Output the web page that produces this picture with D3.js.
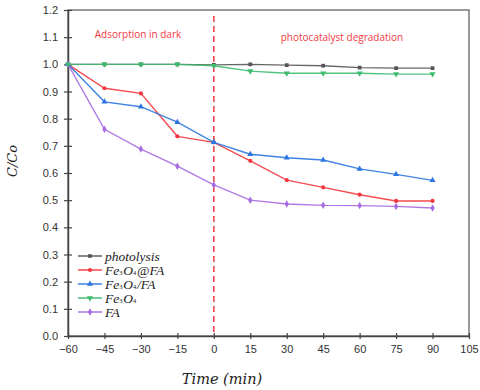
<!DOCTYPE html>
<html><head><meta charset="utf-8">
<script src="https://cdn.jsdelivr.net/npm/d3@7"></script>
<style>body{margin:0;background:#fff}svg{display:block}</style>
</head><body>
<svg id="c" width="480" height="390"></svg>
<script>
const times = [-60,-45,-30,-15,0,15,30,45,60,75,90];
const photolysis = [1.0,1.0,1.0,1.0,0.998,1.0,0.997,0.995,0.988,0.986,0.986];
const fe3o4AtFA = [1.0,0.912,0.893,0.735,0.713,0.645,0.574,0.547,0.520,0.497,0.497];
const fe3o4SlashFA = [1.0,0.862,0.844,0.787,0.713,0.669,0.656,0.648,0.615,0.595,0.573];
const fe3o4 = [1.0,1.0,1.0,1.0,0.995,0.975,0.967,0.967,0.967,0.964,0.964];
const fa = [1.0,0.761,0.688,0.625,0.556,0.500,0.486,0.481,0.480,0.477,0.471];
const xTicks = [-60,-45,-30,-15,0,15,30,45,60,75,90,105];
const yTicks = [0,0.1,0.2,0.3,0.4,0.5,0.6,0.7,0.8,0.9,1.0,1.1,1.2];

const series = [
  {name:"photolysis", vals:photolysis, color:"#555555", sym:d3.symbolSquare, size:14, rot:0},
  {name:"Fe3O4@FA", vals:fe3o4AtFA, color:"#f2393f", sym:d3.symbolCircle, size:14, rot:0},
  {name:"Fe3O4/FA", vals:fe3o4SlashFA, color:"#2b76e0", sym:d3.symbolTriangle, size:16, rot:0},
  {name:"Fe3O4", vals:fe3o4, color:"#3dbb6e", sym:d3.symbolTriangle, size:16, rot:180},
  {name:"FA", vals:fa, color:"#a66be0", sym:d3.symbolDiamond, size:16, rot:0}
];

const svg = d3.select("#c");
const L=68,R=469,T=10,B=336;
const x = d3.scaleLinear().domain([-60,105]).range([L,R]);
const y = d3.scaleLinear().domain([0,1.2]).range([B,T]);

svg.append("rect").attr("x",L).attr("y",T).attr("width",R-L).attr("height",B-T)
  .attr("fill","none").attr("stroke","#555").attr("stroke-width",1.2);

const ax = svg.append("g").attr("transform",`translate(0,${B})`)
  .call(d3.axisBottom(x).tickValues(xTicks).tickSize(3).tickSizeOuter(0).tickPadding(6));
ax.selectAll(".tick line").attr("y1",-3);
const ay = svg.append("g").attr("transform",`translate(${L},0)`)
  .call(d3.axisLeft(y).tickValues(yTicks).tickSize(4).tickSizeOuter(0).tickPadding(6).tickFormat(d3.format(".1f")));
ay.selectAll(".tick line").attr("x1",4);
[ax,ay].forEach(a=>{
  a.select(".domain").attr("stroke","#444").attr("stroke-width",1.5);
  a.selectAll(".tick line").attr("stroke","#444").attr("stroke-width",1.2);
  a.selectAll("text").attr("fill","#333").style("font-family","Liberation Sans, Arial, sans-serif").style("font-size","11px");
});

svg.append("line").attr("x1",x(0)).attr("x2",x(0)).attr("y1",y(1.2)+6).attr("y2",B)
  .attr("stroke","#f2393f").attr("stroke-width",1.5).attr("stroke-dasharray","6,4");

svg.append("text").attr("x",138).attr("y",38).attr("fill","#f2393f")
  .style("font-family","Open Sans, Liberation Sans, sans-serif").style("font-size","10px").attr("text-anchor","middle").text("Adsorption in dark");
svg.append("text").attr("x",342).attr("y",41).attr("fill","#f2393f")
  .style("font-family","Open Sans, Liberation Sans, sans-serif").style("font-size","10px").attr("text-anchor","middle").text("photocatalyst degradation");

const line = d3.line().x((d,i)=>x(times[i])).y(d=>y(d));
const drawOrder = [0,1,2,4,3];
drawOrder.forEach(k=>{
  const s=series[k];
  const g=svg.append("g");
  g.append("path").datum(s.vals).attr("d",line).attr("fill","none").attr("stroke",s.color).attr("stroke-width",1.4).attr("stroke-opacity",0.9);
  g.selectAll("path.m").data(s.vals).enter().append("path").attr("class","m")
    .attr("d",d3.symbol().type(s.sym).size(s.size))
    .attr("transform",(d,i)=>`translate(${x(times[i])},${y(d)}) rotate(${s.rot})`)
    .attr("fill",s.color);
});

const serif = "DejaVu Serif, Liberation Serif, serif";
svg.append("text").attr("transform","translate(17,161) rotate(-90)").attr("text-anchor","middle")
  .style("font-family",serif).style("font-style","italic").style("font-size","13px").attr("fill","#222").text("C/Co");
svg.append("text").attr("x",222).attr("y",384).attr("text-anchor","middle")
  .style("font-family",serif).style("font-style","italic").style("font-size","14.5px").attr("fill","#222").text("Time (min)");

const legY=[256,270,284,298,312];
const labels = [
  [{t:"photolysis"}],
  [{t:"Fe"},{t:"3",sub:1},{t:"O"},{t:"4",sub:1},{t:"@FA"}],
  [{t:"Fe"},{t:"3",sub:1},{t:"O"},{t:"4",sub:1},{t:"/FA"}],
  [{t:"Fe"},{t:"3",sub:1},{t:"O"},{t:"4",sub:1}],
  [{t:"FA"}]
];
const legSerif = "Liberation Serif, DejaVu Serif, serif";
series.forEach((s,i)=>{
  const yy=legY[i];
  svg.append("line").attr("x1",78).attr("x2",102).attr("y1",yy).attr("y2",yy).attr("stroke",s.color).attr("stroke-width",1.4);
  svg.append("path").attr("d",d3.symbol().type(s.sym).size(s.size)).attr("transform",`translate(90,${yy}) rotate(${s.rot})`).attr("fill",s.color);
  const t=svg.append("text").attr("x",105).attr("y",yy+4.5).style("font-family",legSerif).style("font-style","italic").style("font-size","13.5px").attr("fill","#222");
  labels[i].forEach((p,j)=>{
    const ts=t.append("tspan").text(p.t);
    if(p.sub) ts.style("font-size","6.5px").style("font-style","normal");
    else if(j>0) ts.attr("dx",0.8);
  });
});
</script>
</body></html>
